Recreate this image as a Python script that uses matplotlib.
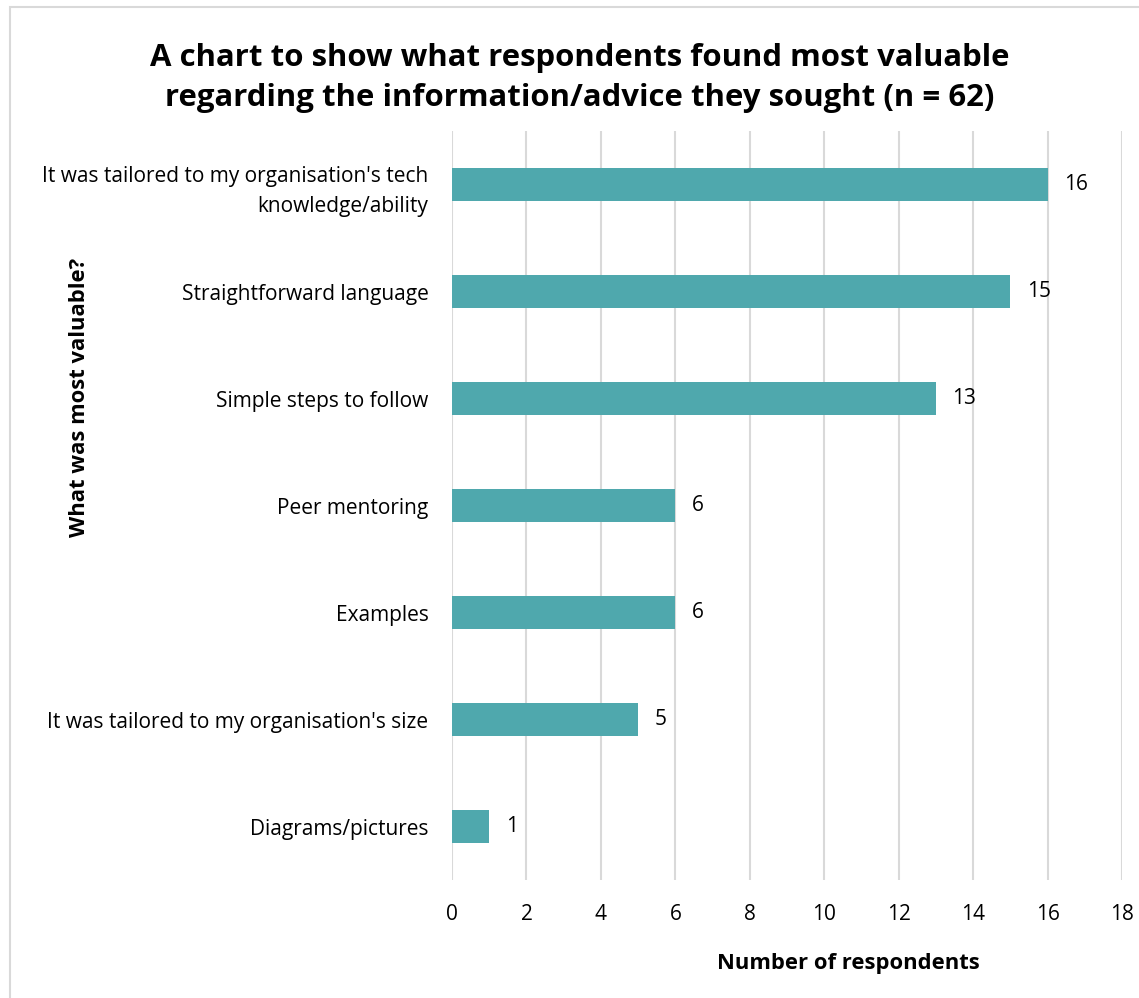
import matplotlib
matplotlib.use("Agg")
import matplotlib.pyplot as plt
from matplotlib.patches import Rectangle

categories = [
    "It was tailored to my organisation's tech\nknowledge/ability",
    "Straightforward language",
    "Simple steps to follow",
    "Peer mentoring",
    "Examples",
    "It was tailored to my organisation's size",
    "Diagrams/pictures",
]
values = [16, 15, 13, 6, 6, 5, 1]
xticks = [0, 2, 4, 6, 8, 10, 12, 14, 16, 18]

title = "A chart to show what respondents found most valuable\nregarding the information/advice they sought (n = 62)"
ylabel = "What was most valuable?"
xlabel = "Number of respondents"

plt.rcParams['font.family'] = ['Open Sans', 'DejaVu Sans']

W, H = 1139, 998
fig = plt.figure(figsize=(W / 100, H / 100), dpi=100)
fig.patch.set_facecolor("white")

# outer border
fig.patches.append(Rectangle((10 / W, -0.2), 1.2, 1.2 - 7 / H, transform=fig.transFigure,
                             fill=False, edgecolor="#d9d9d9", linewidth=1.5))

ax = fig.add_axes([452 / W, 1 - 880 / H, (1122 - 452) / W, (880 - 131) / H])
ypos = list(range(len(categories)))
bars = ax.barh(ypos, values, height=0.31, color="#4fa8ad", zorder=3)
ax.set_ylim(len(categories) - 0.5, -0.5)
ax.set_xlim(0, 18)
ax.set_xticks(xticks)
ax.set_xticklabels([str(t) for t in xticks], fontsize=15)
ax.set_yticks(ypos)
ax.set_yticklabels(categories, fontsize=15, linespacing=1.55)
ax.tick_params(axis="both", length=0)
ax.tick_params(axis="x", pad=17)
ax.tick_params(axis="y", pad=17)
for s in ax.spines.values():
    s.set_visible(False)
ax.grid(axis="x", color="#d9d9d9", linewidth=1.5, zorder=0)

for b, v in zip(bars, values):
    ax.annotate(str(v), (b.get_width(), b.get_y() + b.get_height() / 2),
                xytext=(12, 0), textcoords="offset points", va="center", ha="left",
                fontsize=15)

fig.text(580 / W, 1 - 78 / H, title, ha="center", va="center", fontsize=22.4,
         fontweight="bold", linespacing=1.45)
fig.text(80 / W, 1 - 397 / H, ylabel, ha="center", va="center", rotation=90,
         fontsize=15.8, fontweight="bold")
fig.text(848 / W, 1 - 963 / H, xlabel, ha="center", va="center",
         fontsize=15.8, fontweight="bold")

fig.savefig("out.png", dpi=100, facecolor="white")
